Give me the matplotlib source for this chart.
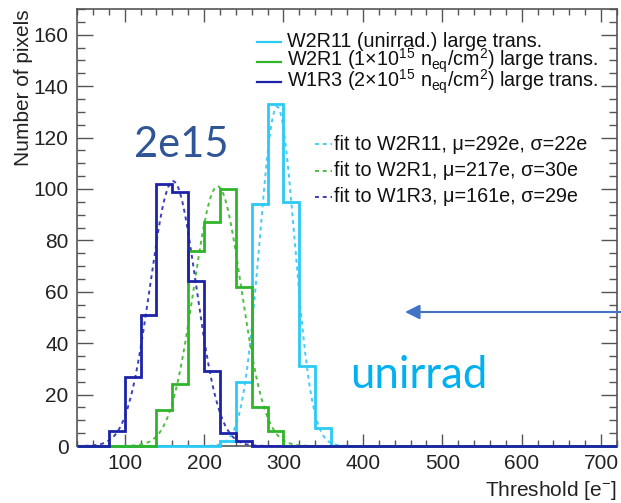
import numpy as np
import matplotlib
matplotlib.use("Agg")
import matplotlib.pyplot as plt
from matplotlib.lines import Line2D
from matplotlib.ticker import MultipleLocator

plt.rcParams['font.family'] = ['Liberation Sans', 'DejaVu Sans']
plt.rcParams['mathtext.fontset'] = 'custom'
plt.rcParams['mathtext.rm'] = 'Liberation Sans'
plt.rcParams['mathtext.it'] = 'Liberation Sans:italic'

# ---------------- data ----------------
bin_width = 20
x_min, x_max = 40, 720

# W2R11 (unirrad.)
cyan_first_bin = 220
cyan_counts = [2, 25, 94, 133, 95, 31, 7]
# W2R1 (1e15)
green_first_bin = 140
green_counts = [14, 24, 76, 87, 100, 62, 15, 6]
# W1R3 (2e15)
blue_first_bin = 80
blue_counts = [6, 27, 51, 102, 99, 64, 29, 5, 2]

# gaussian fits (mu, sigma from legend; amplitude)
fit_mu = [292, 217, 161]
fit_sigma = [22, 30, 29]
fit_amp = [132, 101, 103]

hist_labels = ["W2R11 (unirrad.) large trans.",
               r"W2R1 (1$\times$10$^{15}$ n$_{\rm eq}$/cm$^{2}$) large trans.",
               r"W1R3 (2$\times$10$^{15}$ n$_{\rm eq}$/cm$^{2}$) large trans."]
fit_labels = [r"fit to W2R11, μ=292e, σ=22e",
              r"fit to W2R1, μ=217e, σ=30e",
              r"fit to W1R3, μ=161e, σ=29e"]

hist_colors = ['#2ccaf5', '#2fb52a', '#1c23a8']
fit_colors = ['#45cdf5', '#4cc040', '#3d3dbd']

x_ticks = [100, 200, 300, 400, 500, 600, 700]
y_ticks = [0, 20, 40, 60, 80, 100, 120, 140, 160]

# ---------------- figure ----------------
W, H = 621, 503
fig = plt.figure(figsize=(W / 100, H / 100), dpi=100)

def fx(px):
    return px / W

def fy(py):
    return 1 - py / H

ax = fig.add_axes([fx(77), fy(446), fx(617) - fx(77), fy(9) - fy(446)])

edges = np.arange(x_min, x_max + bin_width, bin_width)

def full_counts(first_bin, counts):
    vals = np.zeros(len(edges) - 1)
    i0 = int((first_bin - x_min) // bin_width)
    vals[i0:i0 + len(counts)] = counts
    return vals

series = [(cyan_first_bin, cyan_counts), (green_first_bin, green_counts),
          (blue_first_bin, blue_counts)]

xs = np.linspace(x_min, x_max, 1000)
for mu, sg, a, c in zip(fit_mu, fit_sigma, fit_amp, fit_colors):
    ax.plot(xs, a * np.exp(-0.5 * ((xs - mu) / sg) ** 2), color=c,
            lw=1.4, ls=(0, (2, 2)), zorder=2)

for (fb, cnt), c in zip(series, hist_colors):
    ax.stairs(full_counts(fb, cnt), edges, color=c, lw=2.0, zorder=3,
              clip_on=False)

ax.set_xlim(x_min, x_max)
ax.set_ylim(0, 170)
ax.set_xticks(x_ticks)
ax.set_yticks(y_ticks)
ax.xaxis.set_minor_locator(MultipleLocator(20))
ax.yaxis.set_minor_locator(MultipleLocator(5))
ax.tick_params(which='both', direction='in', top=True, right=True,
               color='#555555', width=1.0, labelsize=15, labelcolor='#222222',
               pad=6)
ax.tick_params(axis='x', which='major', length=9)
ax.tick_params(axis='x', which='minor', length=4.5)
ax.tick_params(axis='y', which='major', length=11.5)
ax.tick_params(axis='y', which='minor', length=5.5)
for sp in ax.spines.values():
    sp.set_color('#555555')
    sp.set_linewidth(1.2)

ax.set_ylabel("Number of pixels", fontsize=15, color='#222222', loc='top')
ax.yaxis.set_label_coords(-0.082, 1.0)
ax.set_xlabel(r"Threshold [e$^{-}$]", fontsize=15, color='#222222', loc='right')
ax.xaxis.set_label_coords(1.0, -0.075)

# ---------------- legends (drawn manually) ----------------
leg_fs = 14.2
for lbl, c, yb in zip(hist_labels, hist_colors, [46.7, 66.7, 87.3]):
    fig.add_artist(Line2D([fx(257), fx(281)], [fy(yb - 5), fy(yb - 5)],
                          color=c, lw=1.6))
    fig.text(fx(287), fy(yb), lbl, fontsize=leg_fs, color='#111111',
             va='baseline', ha='left')

for lbl, c, yb in zip(fit_labels, fit_colors, [150, 176.5, 202.5]):
    fig.add_artist(Line2D([fx(315), fx(332)], [fy(yb - 6), fy(yb - 6)],
                          color=c, lw=1.4, ls=(0, (2, 2))))
    fig.text(fx(333.5), fy(yb), lbl, fontsize=leg_fs, color='#111111',
             va='baseline', ha='left')

# ---------------- annotations ----------------
fig.text(fx(181), fy(145), "2e15", fontsize=30, color='#2F5597',
         family=['Lato', 'DejaVu Sans'], ha='center', va='center')
fig.text(fx(419), fy(376), "unirrad", fontsize=31.5, color='#00B0F0',
         family=['Lato', 'DejaVu Sans'], ha='center', va='center')
ax.annotate("", xy=(fx(405), fy(312)), xycoords='figure fraction',
            xytext=(fx(621), fy(312)), textcoords='figure fraction',
            arrowprops=dict(arrowstyle='-|>', color='#4472C4', lw=1.5,
                            mutation_scale=22, shrinkA=0, shrinkB=0),
            annotation_clip=False)

fig.savefig("out.png", dpi=100)
